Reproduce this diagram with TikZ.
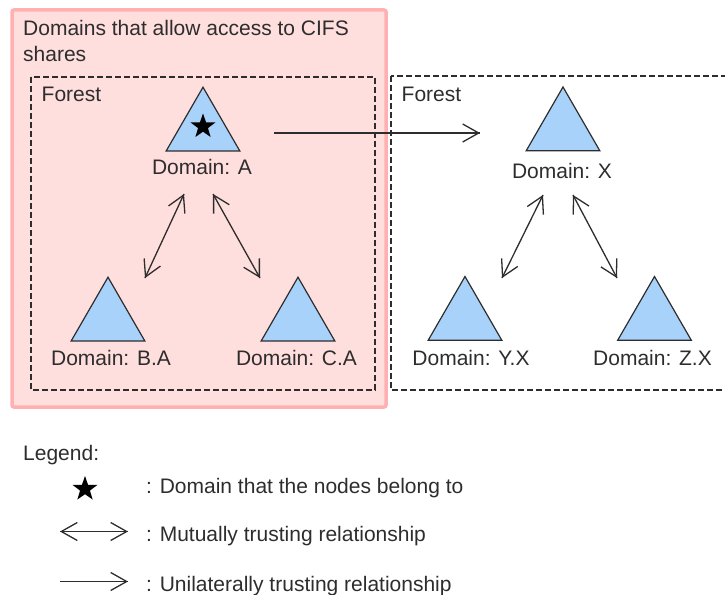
\documentclass[tikz,border=0pt]{standalone}
\usepackage{fontspec}
\setmainfont{Liberation Sans}
\usepackage{tikz}
\usetikzlibrary{arrows.meta}
\usetikzlibrary{decorations.markings}
\usetikzlibrary{shapes.geometric}
\usetikzlibrary{positioning}
\tikzset{->/.style = {decoration={markings,
                                  mark=at position 1 with {\arrow{Straight Barb[length=16pt, width=18pt]}}},
                      postaction={decorate}}}
\tikzset{<->/.style = {decoration={markings,
                                   mark=at position 0 with {\arrowreversed{Straight Barb[length=16pt, width=18pt]}},
                                   mark=at position 1 with {\arrow{Straight Barb[length=16pt, width=18pt]}}},
                       postaction={decorate}}}
\tikzset{dom/.style = {draw = mgray, fill = mblue, regular polygon, regular polygon sides = 3,
                       minimum size = 85, inner sep = 0, line width = 1.2}}
\tikzset{lbl/.style = {text = mgray, font = \fontsize{21}{25.5}\selectfont, inner sep = 0}}
\tikzset{bstar/.style = {star, star points = 5, star point ratio = 2.5, fill, inner sep = 0, minimum size = 26}}
\tikzset{forest/.style = {draw = mgray, dash pattern = on 6pt off 3pt, line width = 1.2}}
\definecolor{mgray}{RGB}{45, 45, 45}
\definecolor{mblue}{RGB}{168, 210, 250}
\definecolor{mpink}{RGB}{255, 222, 222}
\definecolor{mpinkline}{RGB}{255, 176, 176}

\begin{document}
\begin{tikzpicture}[x = 1pt, y = -1pt]
    \useasboundingbox (0, 0) rectangle (725, 594);

    \draw [fill = mpink, draw = mpinkline, line width = 3.5, rounded corners = 2] (12, 10) rectangle (386, 407);
    \node [lbl, anchor = north west, align = left] (title) at (23, 20.3) {Domains that allow access to CIFS\\shares};

    \draw [forest] (31, 77) rectangle (375, 390);
    \draw [forest] (391, 76) rectangle (740, 390);
    \node [lbl, anchor = base west] (forL) at (41.5, 101) {Forest};
    \node [lbl, anchor = base west] (forR) at (401.5, 101.5) {Forest};

    \node [dom] (tA) at (203, 129.7) {};
    \node [dom] (tB) at (108, 319.7) {};
    \node [dom] (tC) at (298, 319.7) {};
    \node [dom] (tX) at (563, 129.5) {};
    \node [dom] (tY) at (465, 319) {};
    \node [dom] (tZ) at (654.5, 319) {};
    \node [bstar] (sA) at (203, 126.5) {};

    \node [lbl, anchor = base] (lA) at (202, 174) {Domain: A};
    \node [lbl, anchor = base] (lB) at (111, 365) {Domain: B.A};
    \node [lbl, anchor = base] (lC) at (296.5, 365) {Domain: C.A};
    \node [lbl, anchor = base] (lX) at (562, 178) {Domain: X};
    \node [lbl, anchor = base] (lY) at (471, 365) {Domain: Y.X};
    \node [lbl, anchor = base] (lZ) at (652.5, 365) {Domain: Z.X};

    \coordinate (a1) at (184, 194);
    \coordinate (a2) at (145, 278);
    \coordinate (a3) at (213, 194);
    \coordinate (a4) at (260, 278);
    \coordinate (x1) at (543, 195);
    \coordinate (x2) at (502, 278);
    \coordinate (x3) at (573, 195);
    \coordinate (x4) at (617, 278);
    \coordinate (ax1) at (274, 133);
    \coordinate (ax2) at (480, 133);

    \draw [mgray, line width = 1.3, <->] (a1) -- (a2);
    \draw [mgray, line width = 1.3, <->] (a3) -- (a4);
    \draw [mgray, line width = 1.3, <->] (x1) -- (x2);
    \draw [mgray, line width = 1.3, <->] (x3) -- (x4);
    \draw [mgray, line width = 1.3, ->] (ax1) -- (ax2);

    % legend
    \node [lbl, anchor = base west] (leg) at (23, 460) {Legend:};
    \node [bstar] (lstar) at (85, 489) {};
    \node [lbl, anchor = base west] (leg1) at (146, 493) {: Domain that the nodes belong to};
    \coordinate (m1) at (60, 531.5);
    \coordinate (m2) at (128, 531.5);
    \draw [mgray, line width = 1.3, <->] (m1) -- (m2);
    \node [lbl, anchor = base west] (leg2) at (146, 541) {: Mutually trusting relationship};
    \coordinate (u1) at (60, 581.5);
    \coordinate (u2) at (128, 581.5);
    \draw [mgray, line width = 1.3, ->] (u1) -- (u2);
    \node [lbl, anchor = base west] (leg3) at (146, 591) {: Unilaterally trusting relationship};
\end{tikzpicture}
\end{document}
